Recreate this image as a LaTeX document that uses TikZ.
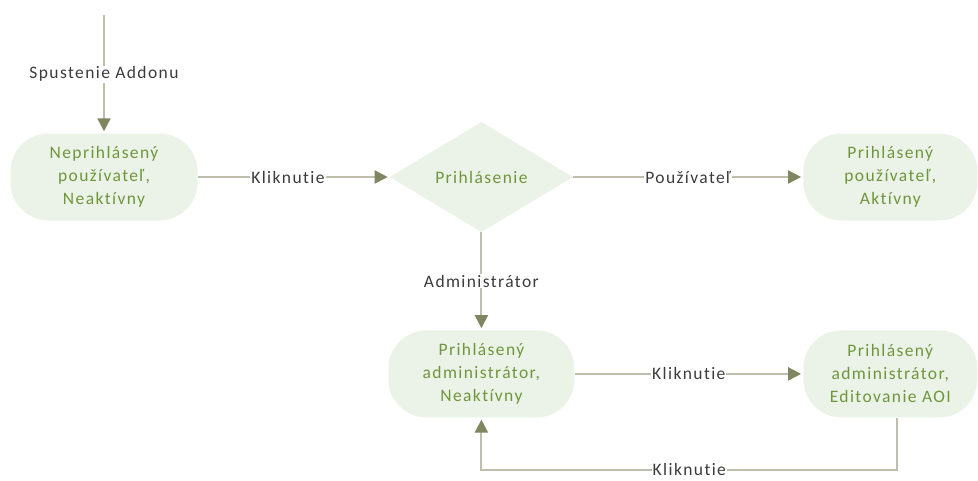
\documentclass[tikz,border=0pt]{standalone}
\usepackage{fontspec}
\setmainfont{Carlito}[LetterSpace=8,Ligatures=NoCommon]
\usetikzlibrary{shapes.geometric,arrows.meta,positioning}
\definecolor{lineclr}{RGB}{190,190,170}
\definecolor{tipclr}{RGB}{128,134,96}
\definecolor{stfill}{RGB}{235,242,231}
\definecolor{sttext}{RGB}{112,150,60}
\definecolor{lbltext}{RGB}{60,60,60}
\tikzset{
  stnode/.style={rectangle,rounded corners=38pt,fill=stfill,text=sttext,
    minimum width=174pt,minimum height=87pt,align=center,inner sep=2pt,
    font=\fontsize{17.5}{23}\selectfont},
  decnode/.style={diamond,fill=stfill,text=sttext,minimum width=183pt,
    minimum height=110pt,inner sep=0pt,font=\fontsize{17.5}{23}\selectfont},
  arr/.style={lineclr,line width=2pt,
    -{Triangle[length=13pt,width=13pt,color=tipclr]},shorten >=2pt},
  lbl/.style={fill=white,text=lbltext,inner sep=1pt,
    font=\fontsize{17.5}{20}\selectfont},
}
\begin{document}
\begin{tikzpicture}[x=1pt,y=-1pt]
  \useasboundingbox (0,0) rectangle (978,480);
  \coordinate (start) at (104,15);
  \node[stnode,minimum width=187pt] (nepr) at (104,177) {Neprihlásený\\používateľ,\\Neaktívny};
  \node[decnode,right=192pt of nepr] (prihl) {Prihlásenie};
  \node[stnode,right=230pt of prihl] (pouz) {Prihlásený\\používateľ,\\Aktívny};
  \node[stnode,minimum width=186pt,below=98pt of prihl] (admn) {Prihlásený\\administrátor,\\Neaktívny};
  \node[stnode] (aoi) at (pouz |- admn) {Prihlásený\\administrátor,\\Editovanie AOI};

  \draw[arr] (start) -- node[lbl]{Spustenie Addonu} (nepr);
  \draw[arr] (nepr) -- node[lbl,pos=0.47]{Kliknutie} (prihl);
  \draw[arr] (prihl) -- node[lbl]{Používateľ} (pouz);
  \draw[arr] (prihl) -- node[lbl]{Administrátor} (admn);
  \draw[arr] (admn) -- node[lbl]{Kliknutie} (aoi);
  \draw[arr] ([xshift=7pt]aoi.south) -- ++(0,52) -| node[lbl,pos=0.25]{Kliknutie} (admn.south);
\end{tikzpicture}
\end{document}
